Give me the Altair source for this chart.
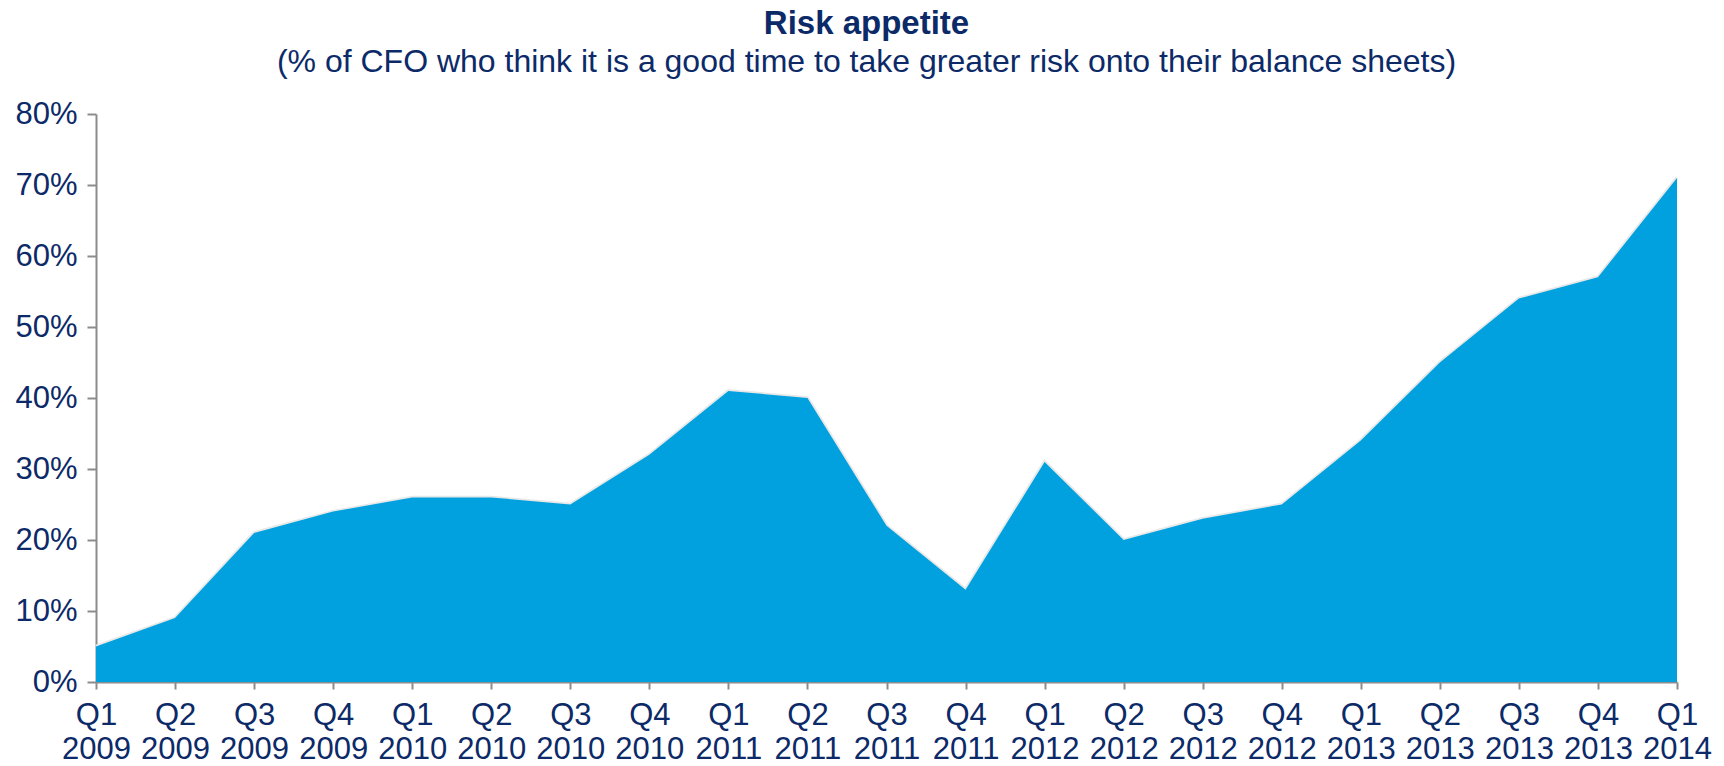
import altair as alt
import pandas as pd

quarters = ["Q1 2009", "Q2 2009", "Q3 2009", "Q4 2009",
            "Q1 2010", "Q2 2010", "Q3 2010", "Q4 2010",
            "Q1 2011", "Q2 2011", "Q3 2011", "Q4 2011",
            "Q1 2012", "Q2 2012", "Q3 2012", "Q4 2012",
            "Q1 2013", "Q2 2013", "Q3 2013", "Q4 2013",
            "Q1 2014"]
risk_appetite = [0.05, 0.09, 0.21, 0.24, 0.26, 0.26, 0.25, 0.32,
                 0.41, 0.40, 0.22, 0.13, 0.31, 0.20, 0.23, 0.25,
                 0.34, 0.45, 0.54, 0.57, 0.71]

df = pd.DataFrame({"quarter": quarters, "value": risk_appetite})

navy = "#0c2a68"
font = "Liberation Sans"

x_enc = alt.X("quarter:O", sort=quarters,
              scale=alt.Scale(type="point", padding=0),
              axis=alt.Axis(title=None, labelAngle=0,
                            labelExpr="split(datum.label, ' ')",
                            labelFontSize=31, labelColor=navy, labelFont=font,
                            labelLineHeight=34, labelPadding=11,
                            tickSize=7, tickColor="#8c8c8c", domainColor="#8c8c8c",
                            domainWidth=2, tickWidth=2, labelBaseline="top"))
y_enc = alt.Y("value:Q",
              scale=alt.Scale(domain=[0, 0.8]),
              axis=alt.Axis(title=None, format=".0%", values=[0, .1, .2, .3, .4, .5, .6, .7, .8],
                            labelFontSize=31, labelColor=navy, labelFont=font,
                            labelPadding=10, tickSize=9, tickColor="#8c8c8c",
                            domainColor="#8c8c8c", domainWidth=2, tickWidth=2,
                            grid=False))

base = alt.Chart(df)
shadow = base.mark_line(color="#e8e8e8", strokeWidth=3.5).encode(x=x_enc, y=y_enc)
area = base.mark_area(color="#00a1de", opacity=1).encode(x=x_enc, y=y_enc)

chart = alt.layer(shadow, area).properties(
    width=1581, height=568,
    title=alt.TitleParams(
        text="Risk appetite",
        subtitle="(% of CFO who think it is a good time to take greater risk onto their balance sheets)",
        anchor="middle", font=font, fontSize=33, fontWeight="bold", color=navy,
        subtitleFont=font, subtitleFontSize=32, subtitleColor=navy,
        subtitlePadding=6, offset=20, dx=-20),
    autosize=alt.AutoSizeParams(type="none"),
    padding={"left": 88, "top": 106, "right": 39, "bottom": 84},
).configure_view(stroke=None)

chart.save("out.html", embed_options={"renderer": "svg", "actions": False})
